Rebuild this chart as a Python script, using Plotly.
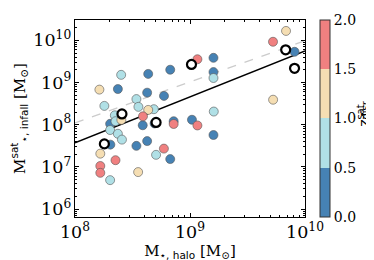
import numpy as np
import plotly.graph_objects as go

# ---- data ----
blue_x = [2.36e8, 4.33e8, 6.73e8, 4.24e8, 5.94e8, 2.02e8, 3.88e8, 4.92e8, 7.21e8, 1.04e9,
          1.60e9, 1.60e9, 8.11e9, 1.60e9, 2.03e8, 3.42e8, 4.24e8, 6.73e8]
blue_y = [7.0e8, 1.60e9, 2.01e9, 5.75e8, 4.81e8, 1.05e8, 9.7e7, 1.07e8, 1.21e8, 1.31e8,
          3.85e9, 1.77e9, 5.35e9, 5.70e7, 3.37e7, 3.15e7, 4.09e7, 1.53e7]
blue_z = [0.25] * 18

powder_x = [2.52e8, 1.80e8, 3.42e8, 3.56e8, 4.85e8, 2.22e8, 2.25e8, 2.02e8, 2.36e8, 2.56e8,
            5.07e8, 2.02e8, 1.60e9, 1.61e9]
powder_y = [1.52e9, 2.79e8, 4.05e8, 2.65e8, 2.33e8, 1.67e8, 1.21e8, 7.48e7, 6.1e7, 4.43e7,
            1.93e7, 4.85e6, 1.28e9, 2.05e8]
powder_z = [0.75] * 14

wheat_x = [1.63e8, 4.33e8, 2.53e8, 1.66e8, 3.54e8, 6.84e9, 5.28e9]
wheat_y = [6.79e8, 2.24e8, 1.30e8, 2.06e7, 7.53e6, 1.67e10, 3.91e8]
wheat_z = [1.25] * 7

coral_x = [1.16e9, 3.90e8, 7.21e8, 1.16e9, 2.25e8, 5.93e8, 1.66e8, 1.66e8, 5.27e9]
coral_y = [3.56e9, 1.58e8, 1.04e8, 9.6e7, 1.44e7, 2.71e7, 1.05e7, 7.23e6, 9.25e9]
coral_z = [1.75] * 9

open_x = [1.03e9, 2.56e8, 5.07e8, 1.80e8, 6.79e9, 8.11e9]
open_y = [2.68e9, 1.80e8, 1.13e8, 3.51e7, 5.97e9, 2.17e9]

# fit relations (log-log): log y = a + b (log x - 8)
fit_a, fit_b = 7.57, 1.09
ref_a, ref_b = 8.04, 0.975
x_range_log = [8.0, 10.0]
y_range_log = [5.812, 10.482]

cbar_ticks = [0.0, 0.5, 1.0, 1.5, 2.0]
colors = ["steelblue", "powderblue", "wheat", "lightcoral"]

# ---- figure ----
xs = np.concatenate([blue_x, powder_x, wheat_x, coral_x])
ys = np.concatenate([blue_y, powder_y, wheat_y, coral_y])
zs = np.concatenate([blue_z, powder_z, wheat_z, coral_z])

cs = []
for i, c in enumerate(colors):
    cs.append([i / 4, c])
    cs.append([(i + 1) / 4, c])

serif = "DejaVu Serif"
sans = "DejaVu Sans"


def ss(t):
    return f'<span style="font-family:{sans}">{t}</span>'


fig = go.Figure()

lx = np.array(x_range_log)
fig.add_trace(go.Scatter(x=10 ** lx, y=10 ** (ref_a + ref_b * (lx - 8)), mode="lines",
                         line=dict(color="#cccccc", width=1.3, dash="dash"),
                         showlegend=False, hoverinfo="skip"))
fig.add_trace(go.Scatter(x=10 ** lx, y=10 ** (fit_a + fit_b * (lx - 8)), mode="lines",
                         line=dict(color="black", width=1.4),
                         showlegend=False, hoverinfo="skip"))

fig.add_trace(go.Scatter(
    x=xs, y=ys, mode="markers", showlegend=False,
    marker=dict(size=9, color=zs, colorscale=cs, cmin=0, cmax=2,
                line=dict(color="#555555", width=0.6),
                colorbar=dict(
                    x=(312 - 61) / 236, xanchor="left", xpad=0, ypad=0,
                    y=0.5, yanchor="middle", len=1, lenmode="fraction",
                    thickness=10, outlinecolor="#333333", outlinewidth=1,
                    tickvals=cbar_ticks, ticktext=[f"{v:.1f}" for v in cbar_ticks],
                    ticks="", ticklen=0,
                    tickfont=dict(family=serif, size=14, color="black"),
                ))))

fig.add_trace(go.Scatter(
    x=open_x, y=open_y, mode="markers", showlegend=False,
    marker=dict(symbol="circle", size=9, color="white", line=dict(width=2.2, color="black"))))

# colorbar label z^sat_disr, built from stacked rotated pieces
W, H, L, T = 236.0, 208.3, 61.0, 10.7


def px2paper(px, py):
    return (px - L) / W, (T + H - py) / H


for txt, px, py, sz in [("z", 358, 120, 14), ("sat", 353, 108, 10), ("disr", 359, 106, 10)]:
    ax_, ay_ = px2paper(px, py)
    fig.add_annotation(text=txt, xref="paper", yref="paper", x=ax_, y=ay_,
                       xanchor="center", yanchor="middle", textangle=-90, showarrow=False,
                       font=dict(family=sans, size=sz, color="black"))

axis_common = dict(
    type="log", showgrid=False, zeroline=False, showline=True, linecolor="black",
    linewidth=1, mirror="allticks", ticks="inside", ticklen=4, tickcolor="black",
    dtick=1, exponentformat="power",
    tickfont=dict(family=serif, size=14, color="black"),
    minor=dict(ticks="inside", ticklen=2, tickcolor="black", dtick="D1", showgrid=False),
)

fig.update_layout(
    width=374, height=260,
    margin=dict(l=61, r=77, t=11, b=41),
    paper_bgcolor="white", plot_bgcolor="white",
    xaxis=dict(**axis_common, range=x_range_log,
               title=dict(text="M<sub>" + ss("⋆, halo") + "</sub> [M<sub>⊙</sub>]",
                          font=dict(family=serif, size=15, color="black"), standoff=4)),
    yaxis=dict(**axis_common, range=y_range_log,
               title=dict(text="M<sup>" + ss("sat") + "</sup><sub>" + ss("⋆, infall")
                          + "</sub> [M<sub>⊙</sub>]",
                          font=dict(family=serif, size=15, color="black"), standoff=4)),
)

fig.write_html("out.html")
